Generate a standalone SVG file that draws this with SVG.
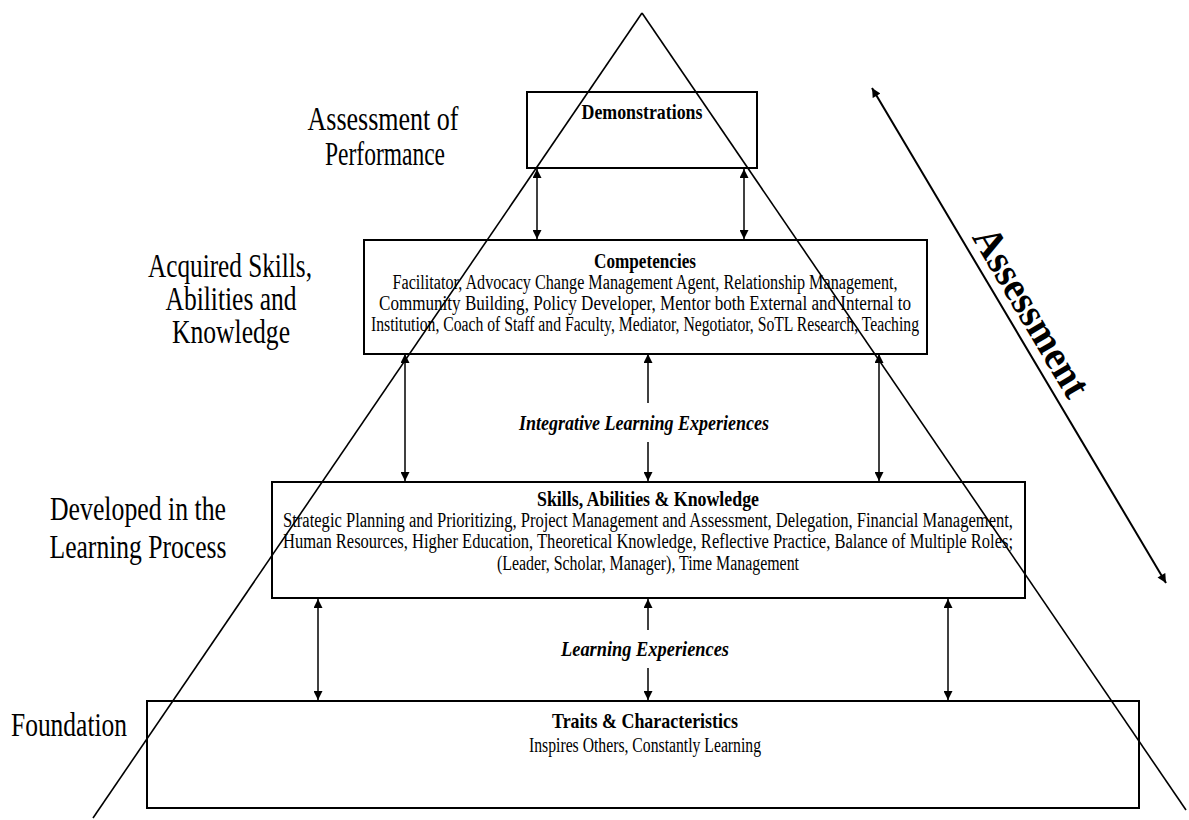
<svg xmlns="http://www.w3.org/2000/svg" width="1189" height="820" viewBox="0 0 1189 820">
<defs>
<marker id="ah" viewBox="0 0 10 10" refX="10" refY="5" markerWidth="10" markerHeight="9" markerUnits="userSpaceOnUse" orient="auto-start-reverse"><path d="M0,0 L10,5 L0,10 z" fill="#000"/></marker>
<style>
.box{fill:none;stroke:#000;stroke-width:2}
.ln{stroke:#000;stroke-width:1.6;fill:none}
.arr{stroke:#000;stroke-width:1.5;fill:none}
.side{font-family:"Liberation Serif",serif;font-size:33px;fill:#000;text-anchor:middle}
.ttl{font-family:"Liberation Serif",serif;font-size:21px;font-weight:bold;fill:#000;text-anchor:middle}
.body{font-family:"Liberation Serif",serif;font-size:20px;fill:#000;text-anchor:middle}
.mid{font-family:"Liberation Serif",serif;font-size:21px;font-weight:bold;font-style:italic;fill:#000;text-anchor:middle}
.big{font-family:"Liberation Serif",serif;font-size:41px;font-weight:bold;fill:#000;text-anchor:middle}
</style>
</defs>
<rect width="1189" height="820" fill="#fff"/>
<g id="connectors">
<line class="ln" x1="642" y1="13" x2="93" y2="818"/>
<line class="ln" x1="642" y1="13" x2="1186" y2="810"/>
<line class="arr" x1="537" y1="169" x2="537" y2="239" marker-start="url(#ah)" marker-end="url(#ah)"/>
<line class="arr" x1="744" y1="169" x2="744" y2="239" marker-start="url(#ah)" marker-end="url(#ah)"/>
<line class="arr" x1="405" y1="354" x2="405" y2="481" marker-start="url(#ah)" marker-end="url(#ah)"/>
<line class="arr" x1="879" y1="354" x2="879" y2="481" marker-start="url(#ah)" marker-end="url(#ah)"/>
<line class="arr" x1="648" y1="403" x2="648" y2="354" marker-end="url(#ah)"/>
<line class="arr" x1="648" y1="442" x2="648" y2="481" marker-end="url(#ah)"/>
<line class="arr" x1="318" y1="599" x2="318" y2="700" marker-start="url(#ah)" marker-end="url(#ah)"/>
<line class="arr" x1="948" y1="599" x2="948" y2="700" marker-start="url(#ah)" marker-end="url(#ah)"/>
<line class="arr" x1="648" y1="630" x2="648" y2="599" marker-end="url(#ah)"/>
<line class="arr" x1="648" y1="668" x2="648" y2="700" marker-end="url(#ah)"/>
<line class="arr" style="stroke-width:2" x1="872" y1="88" x2="1166" y2="583" marker-start="url(#ah)" marker-end="url(#ah)"/>
</g>
<g id="node-demonstrations">
<rect class="box" x="527" y="92" width="230" height="76"/>
<text class="ttl" x="642" y="119" textLength="121" lengthAdjust="spacingAndGlyphs">Demonstrations</text>
</g>
<g id="node-competencies">
<rect class="box" x="364" y="240" width="563" height="114"/>
<text class="ttl" x="645" y="268" textLength="102" lengthAdjust="spacingAndGlyphs">Competencies</text>
<text class="body" x="645" y="289" textLength="505" lengthAdjust="spacingAndGlyphs">Facilitator, Advocacy Change Management Agent, Relationship Management,</text>
<text class="body" x="645" y="310" textLength="532" lengthAdjust="spacingAndGlyphs">Community Building, Policy Developer, Mentor both External and Internal to</text>
<text class="body" x="645" y="331" textLength="548" lengthAdjust="spacingAndGlyphs">Institution, Coach of Staff and Faculty, Mediator, Negotiator, SoTL Research, Teaching</text>
</g>
<g id="node-skills">
<rect class="box" x="272" y="482" width="753" height="116"/>
<text class="ttl" x="648" y="506" textLength="222" lengthAdjust="spacingAndGlyphs">Skills, Abilities &amp; Knowledge</text>
<text class="body" x="648" y="527" textLength="730" lengthAdjust="spacingAndGlyphs">Strategic Planning and Prioritizing, Project Management and Assessment, Delegation, Financial Management,</text>
<text class="body" x="648" y="548" textLength="730" lengthAdjust="spacingAndGlyphs">Human Resources, Higher Education, Theoretical Knowledge, Reflective Practice, Balance of Multiple Roles;</text>
<text class="body" x="648" y="570" textLength="302" lengthAdjust="spacingAndGlyphs">(Leader, Scholar, Manager), Time Management</text>
</g>
<g id="node-traits">
<rect class="box" x="147" y="701" width="992" height="107"/>
<text class="ttl" x="645" y="728" textLength="186" lengthAdjust="spacingAndGlyphs">Traits &amp; Characteristics</text>
<text class="body" x="645" y="752" textLength="232" lengthAdjust="spacingAndGlyphs">Inspires Others, Constantly Learning</text>
</g>
<g id="label-integrative">
<text class="mid" x="644" y="430" textLength="250" lengthAdjust="spacingAndGlyphs">Integrative Learning Experiences</text>
</g>
<g id="label-learning">
<text class="mid" x="645" y="656" textLength="168" lengthAdjust="spacingAndGlyphs">Learning  Experiences</text>
</g>
<g id="side-labels">
<text class="side" x="383" y="130" textLength="151" lengthAdjust="spacingAndGlyphs">Assessment of</text>
<text class="side" x="385" y="165" textLength="120" lengthAdjust="spacingAndGlyphs">Performance</text>
<text class="side" x="230" y="277" textLength="164" lengthAdjust="spacingAndGlyphs">Acquired Skills,</text>
<text class="side" x="231" y="310" textLength="131" lengthAdjust="spacingAndGlyphs">Abilities and</text>
<text class="side" x="231" y="343" textLength="118" lengthAdjust="spacingAndGlyphs">Knowledge</text>
<text class="side" x="138" y="520" textLength="176" lengthAdjust="spacingAndGlyphs">Developed in the</text>
<text class="side" x="138" y="558" textLength="177" lengthAdjust="spacingAndGlyphs">Learning Process</text>
<text class="side" x="69" y="736" textLength="116" lengthAdjust="spacingAndGlyphs">Foundation</text>
</g>
<g id="label-assessment">
<text class="big" transform="translate(1020,319) rotate(59.3)" x="0" y="0" textLength="190" lengthAdjust="spacingAndGlyphs">Assessment</text>
</g>
</svg>
